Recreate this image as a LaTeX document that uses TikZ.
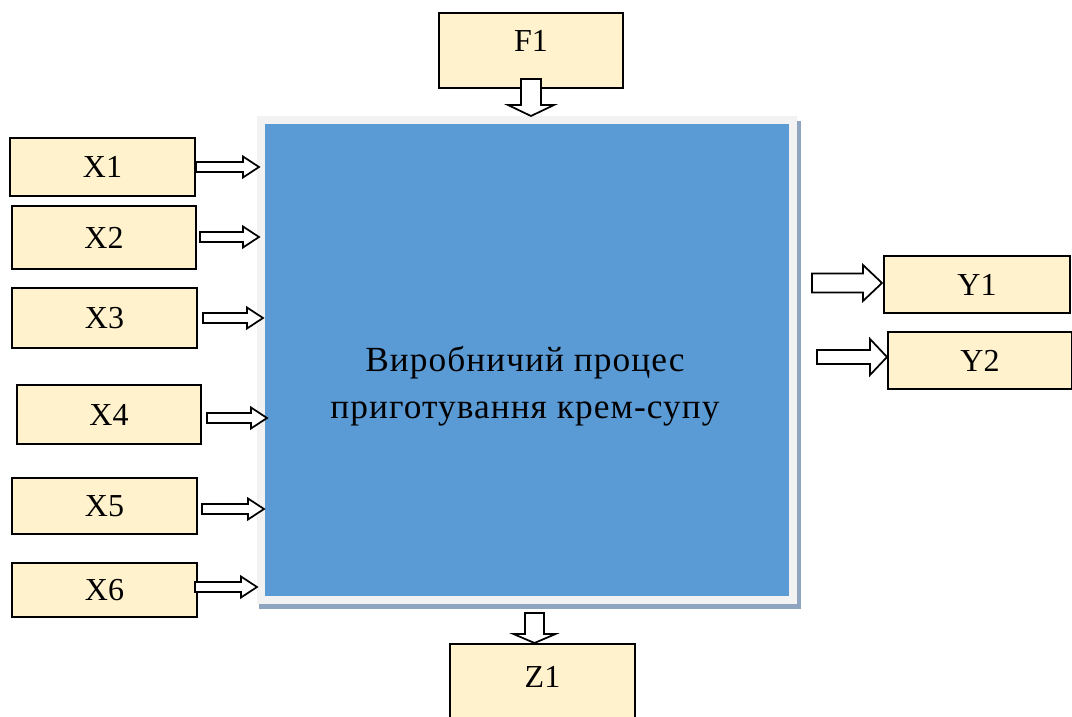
\documentclass[tikz,border=0pt]{standalone}
\usepackage{fontspec}
\setmainfont{Liberation Serif}
\usetikzlibrary{calc}

\definecolor{boxfill}{HTML}{FFF2CC}
\definecolor{procblue}{HTML}{5B9BD5}
\definecolor{procframe}{HTML}{F2F2F2}
\definecolor{procshadow}{HTML}{8FA5BF}

% Horizontal block arrow: #1 tail point, #2 tip, #3 half shaft width,
% #4 half head width, #5 head length (all in picture units)
\newcommand\harrow[5]{%
  \draw[blockarrow] let \p1=(#1), \p2=(#2) in
    (\x1,{\y2+#3*0.75}) -- ({\x2-#5*0.75},{\y2+#3*0.75})
    -- ({\x2-#5*0.75},{\y2+#4*0.75}) -- (\x2,\y2)
    -- ({\x2-#5*0.75},{\y2-#4*0.75}) -- ({\x2-#5*0.75},{\y2-#3*0.75})
    -- (\x1,{\y2-#3*0.75}) -- cycle;}
% Downward block arrow, same arguments
\newcommand\varrow[5]{%
  \draw[blockarrow] let \p1=(#1), \p2=(#2) in
    ({\x2-#3*0.75},\y1) -- ({\x2-#3*0.75},{\y2+#5*0.75})
    -- ({\x2-#4*0.75},{\y2+#5*0.75}) -- (\x2,\y2)
    -- ({\x2+#4*0.75},{\y2+#5*0.75}) -- ({\x2+#3*0.75},{\y2+#5*0.75})
    -- ({\x2+#3*0.75},\y1) -- cycle;}

\tikzset{
  databox/.style={draw=black, line width=1.4pt, fill=boxfill, rectangle,
    inner sep=0pt, font=\fontsize{24}{28}\selectfont},
  blockarrow/.style={draw=black, line width=1.3pt, fill=white, line join=miter},
}

\begin{document}
\begin{tikzpicture}[x=0.75pt, y=-0.75pt]
\useasboundingbox (0,0) rectangle (1072,717);

% process block: shadow, light frame, blue face
\fill[procshadow] (259,121) rectangle (801,609);
\node[draw=procframe, line width=6pt, fill=procblue, minimum width=399pt,
      minimum height=360pt, inner sep=0pt] (proc) at (527,359.75) {};
\node[align=center, font=\fontsize{26.5}{35.25}\selectfont\addfontfeature{LetterSpace=3}]
  (proctext) at (525,386)
  {Виробничий процес\\приготування крем-супу};

% input, output and disturbance boxes
\node[databox, minimum width=138pt, minimum height=56.25pt, text depth=14.2pt] (F1) at (531,50.5) {F1};
\node[databox, minimum width=139pt, minimum height=56.25pt, text depth=6.8pt] (Z1) at (542.5,681.5) {Z1};
\node[databox, minimum width=139pt, minimum height=43.5pt] (X1) at (102.5,167) {X1};
\node[databox, minimum width=138pt, minimum height=47.25pt] (X2) at (104,237.5) {X2};
\node[databox, minimum width=139pt, minimum height=45pt] (X3) at (104.5,318) {X3};
\node[databox, minimum width=138pt, minimum height=44.25pt] (X4) at (109,414.5) {X4};
\node[databox, minimum width=139pt, minimum height=42pt] (X5) at (104.5,506) {X5};
\node[databox, minimum width=139pt, minimum height=40.5pt] (X6) at (104.5,590) {X6};
\node[databox, minimum width=139.5pt, minimum height=42.75pt] (Y1) at (977,284.5) {Y1};
\node[databox, minimum width=138pt, minimum height=42.75pt] (Y2) at (980,360.5) {Y2};

% arrow end points
\coordinate (a1) at (196,167);   \coordinate (b1) at (259,167);
\coordinate (a2) at (200,237);   \coordinate (b2) at (259,237);
\coordinate (a3) at (203,318);   \coordinate (b3) at (263,318);
\coordinate (a4) at (207,418);   \coordinate (b4) at (267,418);
\coordinate (a5) at (202,509);   \coordinate (b5) at (264,509);
\coordinate (a6) at (195,587);   \coordinate (b6) at (257,587);
\coordinate (ay1) at (812,283);  \coordinate (by1) at (882,283);
\coordinate (ay2) at (817,357);  \coordinate (by2) at (887,357);
\coordinate (af) at (531,79);    \coordinate (bf) at (531,116);
\coordinate (az) at (534.5,613); \coordinate (bz) at (534.5,643);

% inputs
\harrow{a1}{b1}{5}{10.5}{16}
\harrow{a2}{b2}{5}{10.5}{16}
\harrow{a3}{b3}{5}{10.5}{16}
\harrow{a4}{b4}{5}{10.5}{16}
\harrow{a5}{b5}{5}{10.5}{16}
\harrow{a6}{b6}{5}{10.5}{16}
% outputs
\harrow{ay1}{by1}{9.5}{18}{19}
\harrow{ay2}{by2}{7}{18}{17}
% disturbance and waste
\varrow{af}{bf}{10}{23}{11}
\varrow{az}{bz}{9.5}{21}{9}
\end{tikzpicture}
\end{document}
